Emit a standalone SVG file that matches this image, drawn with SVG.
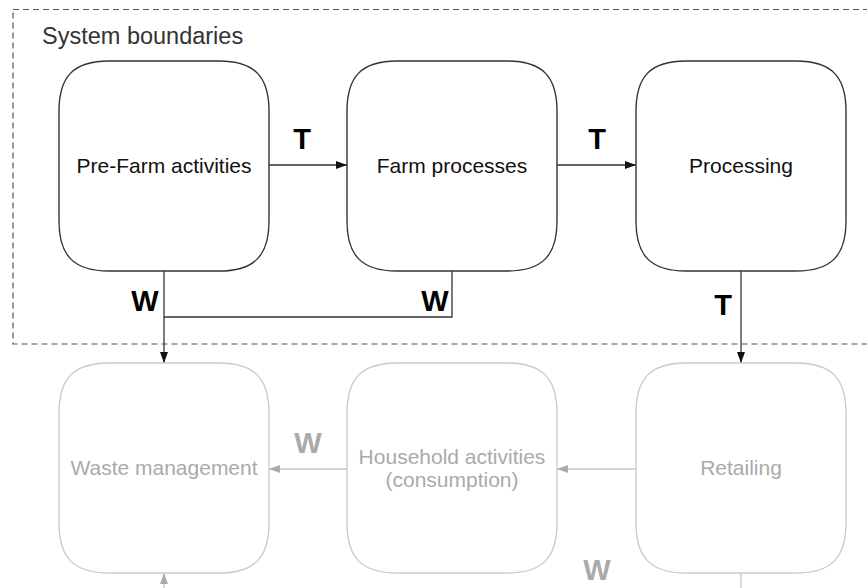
<svg xmlns="http://www.w3.org/2000/svg" width="867" height="588" viewBox="0 0 867 588">
<style>
.box{fill:#fff;stroke:#333;stroke-width:1.4}
.gbox{fill:#fff;stroke:#cbcbcb;stroke-width:1.4}
.lbl{font-family:"Liberation Sans",Arial,sans-serif;font-size:21px;fill:#111;text-anchor:middle}
.glbl{font-family:"Liberation Sans",Arial,sans-serif;font-size:21px;fill:#aaa;text-anchor:middle}
.tag{font-family:"Liberation Sans",Arial,sans-serif;font-size:29px;font-weight:bold;fill:#000;text-anchor:middle}
.gtag{font-family:"Liberation Sans",Arial,sans-serif;font-size:29px;font-weight:bold;fill:#aaa;text-anchor:middle}
.con{fill:none;stroke:#333;stroke-width:1.3}
.gcon{fill:none;stroke:#c4c4c4;stroke-width:1.3}
</style>
<defs>
<marker id="ah" markerUnits="userSpaceOnUse" markerWidth="11" markerHeight="8" refX="11" refY="4" orient="auto"><path d="M0,0 L11,4 L0,8 Z" fill="#111"/></marker>
<marker id="gah" markerUnits="userSpaceOnUse" markerWidth="11" markerHeight="8" refX="11" refY="4" orient="auto"><path d="M0,0 L11,4 L0,8 Z" fill="#aaa"/></marker>
</defs>
<rect x="13" y="9.5" width="900" height="334.5" fill="none" stroke="#555" stroke-width="1.2" stroke-dasharray="6,4"/>
<text x="42" y="44" font-family="Liberation Sans, Arial, sans-serif" font-size="23.5" fill="#333">System boundaries</text>
<g id="connectors">
<line class="con" x1="269" y1="165" x2="347" y2="165" marker-end="url(#ah)"/>
<line class="con" x1="557" y1="165" x2="636" y2="165" marker-end="url(#ah)"/>
<line class="con" x1="741" y1="271" x2="741" y2="363" marker-end="url(#ah)"/>
<line class="con" x1="164" y1="271" x2="164" y2="363" marker-end="url(#ah)"/>
<path class="con" d="M452,271 V317 H164"/>
<line class="gcon" x1="636" y1="469" x2="557" y2="469" marker-end="url(#gah)"/>
<line class="gcon" x1="347" y1="469" x2="269" y2="469" marker-end="url(#gah)"/>
<line class="gcon" x1="741" y1="573" x2="741" y2="590"/>
<line class="gcon" x1="164" y1="592" x2="164" y2="573" marker-end="url(#gah)"/>
<text class="tag" x="302" y="149">T</text>
<text class="tag" x="597" y="149">T</text>
<text class="tag" x="723" y="315">T</text>
<text class="tag" x="145" y="311">W</text>
<text class="tag" x="435" y="311">W</text>
<text class="gtag" x="308" y="453">W</text>
<text class="gtag" x="597" y="580">W</text>
</g>
<g id="prefarm">
<path class="box" d="M109,61 H219 C254,61 269,76 269,111 V221 C269,256 254,271 219,271 H109 C74,271 59,256 59,221 V111 C59,76 74,61 109,61 Z"/>
<text class="lbl" x="164" y="173">Pre-Farm activities</text>
</g>
<g id="farm">
<path class="box" d="M397,61 H507 C542,61 557,76 557,111 V221 C557,256 542,271 507,271 H397 C362,271 347,256 347,221 V111 C347,76 362,61 397,61 Z"/>
<text class="lbl" x="452" y="173">Farm processes</text>
</g>
<g id="processing">
<path class="box" d="M686,61 H796 C831,61 846,76 846,111 V221 C846,256 831,271 796,271 H686 C651,271 636,256 636,221 V111 C636,76 651,61 686,61 Z"/>
<text class="lbl" x="741" y="173">Processing</text>
</g>
<g id="waste">
<path class="gbox" d="M109,363 H219 C254,363 269,378 269,413 V523 C269,558 254,573 219,573 H109 C74,573 59,558 59,523 V413 C59,378 74,363 109,363 Z"/>
<text class="glbl" x="164" y="475">Waste management</text>
</g>
<g id="household">
<path class="gbox" d="M397,363 H507 C542,363 557,378 557,413 V523 C557,558 542,573 507,573 H397 C362,573 347,558 347,523 V413 C347,378 362,363 397,363 Z"/>
<text class="glbl" x="452" y="464">Household activities</text>
<text class="glbl" x="452" y="487">(consumption)</text>
</g>
<g id="retailing">
<path class="gbox" d="M686,363 H796 C831,363 846,378 846,413 V523 C846,558 831,573 796,573 H686 C651,573 636,558 636,523 V413 C636,378 651,363 686,363 Z"/>
<text class="glbl" x="741" y="475">Retailing</text>
</g>
</svg>
